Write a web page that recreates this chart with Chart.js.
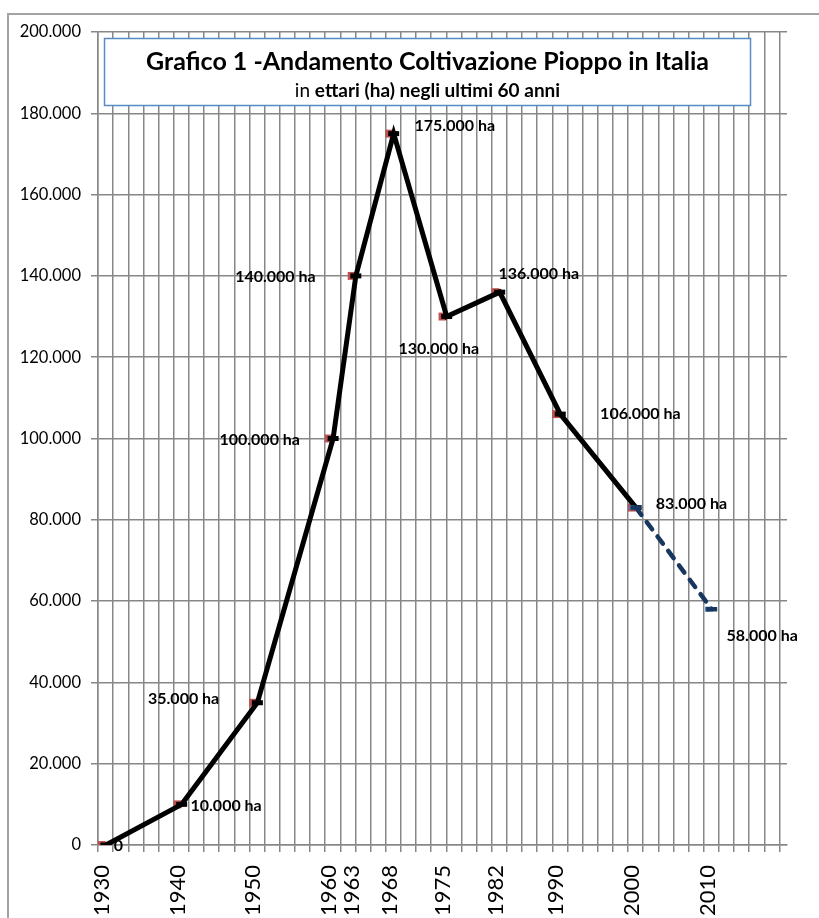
<!DOCTYPE html>
<html lang="it">
<head>
<meta charset="utf-8">
<title>Andamento Coltivazione Pioppo in Italia</title>
<script src="https://cdn.jsdelivr.net/npm/chart.js@4.4.1/dist/chart.umd.min.js"></script>
<style>
  html, body { margin: 0; padding: 0; background: #fff; }
  canvas { display: block; }
</style>
</head>
<body>
<canvas id="grafico" width="819" height="918"></canvas>
<script>
// Dati (ettari coltivati a pioppo)
const anni = [1930, 1940, 1950, 1960, 1963, 1968, 1975, 1982, 1990, 2000];
const ettari = [0, 10000, 35000, 100000, 140000, 175000, 130000, 136000, 106000, 83000];
const anniPrevisione = [2000, 2010];
const ettariPrevisione = [83000, 58000];
const etichetteAnni = [1930, 1940, 1950, 1960, 1963, 1968, 1975, 1982, 1990, 2000, 2010];

// Posizione delle etichette "ha" rispetto al punto: [dx, dy, allineamento]
const posEtichette = [
    [12, 1, 'left'],
    [13, 1, 'left'],
    [-34, -3.5, 'right'],
    [-29, 1.7, 'right'],
    [-36, 1, 'right'],
    [25, -7.3, 'left'],
    [-44, 32, 'left'],
    [3, -18.5, 'left'],
    [44, -0.6, 'left'],
    [24, -3.5, 'left'],
    [19, 27, 'left']
];

const GRIGIO = '#878787';
const FONT = 'Lato, "Open Sans", sans-serif';
const X_MIN = 1929.5;
const X_MAX = 2020.5;
const SPOSTAMENTO = 0.55; // la linea e' leggermente spostata a destra rispetto ai marker

function formatta(v) {
    return String(v).replace(/\B(?=(\d{3})+(?!\d))/g, '.');
}

function punti(xs, ys) {
    return xs.map((x, i) => ({ x: x, y: ys[i] }));
}

// Cornice, titolo ed etichette dei valori
const decorazioni = {
    id: 'decorazioni',
    beforeDraw(chart) {
        const c = chart.ctx;
        c.save();
        c.strokeStyle = '#a3a3a3';
        c.lineWidth = 2;
        c.strokeRect(8, 14, chart.width + 20, chart.height + 20);
        c.restore();
    },
    afterDatasetsDraw(chart) {
        const c = chart.ctx;
        const sx = chart.scales.x;
        const sy = chart.scales.y;
        const tuttiAnni = anni.concat(anniPrevisione.slice(1));
        const tuttiEttari = ettari.concat(ettariPrevisione.slice(1));
        c.save();
        c.fillStyle = '#000';
        c.font = 'bold 16px ' + FONT;
        c.textBaseline = 'middle';
        tuttiAnni.forEach((anno, i) => {
            const v = tuttiEttari[i];
            const [dx, dy, allinea] = posEtichette[i];
            const testo = v === 0 ? '0' : formatta(v) + ' ha';
            c.textAlign = allinea;
            c.fillText(testo, sx.getPixelForValue(anno) + dx, sy.getPixelForValue(v) + dy);
        });
        c.restore();
    },
    afterDraw(chart) {
        const c = chart.ctx;
        const box = { left: 104.5, top: 38.5, right: 750.5, bottom: 105.5 };
        const cx = (box.left + box.right) / 2;
        c.save();
        c.fillStyle = '#fff';
        c.fillRect(box.left, box.top, box.right - box.left, box.bottom - box.top);
        c.strokeStyle = '#5a8ac6';
        c.lineWidth = 1.5;
        c.strokeRect(box.left, box.top, box.right - box.left, box.bottom - box.top);

        c.fillStyle = '#000';
        c.textBaseline = 'middle';
        c.textAlign = 'center';
        c.font = 'bold 25px ' + FONT;
        c.fillText('Grafico 1 -Andamento Coltivazione Pioppo in Italia', cx, 62);

        // sottotitolo: "in" normale, il resto in grassetto
        const parte1 = 'in ';
        const parte2 = 'ettari (ha) negli ultimi 60 anni';
        c.font = '19px ' + FONT;
        const w1 = c.measureText(parte1).width;
        c.font = 'bold 19px ' + FONT;
        const w2 = c.measureText(parte2).width;
        const x0 = cx - (w1 + w2) / 2;
        c.textAlign = 'left';
        c.font = '19px ' + FONT;
        c.fillText(parte1, x0, 91);
        c.font = 'bold 19px ' + FONT;
        c.fillText(parte2, x0 + w1, 91);
        c.restore();
    }
};

new Chart(document.getElementById('grafico'), {
    type: 'line',
    data: {
        datasets: [
            {
                // marker rossi sui valori storici
                data: punti(anni, ettari),
                xAxisID: 'x',
                showLine: false,
                pointStyle: 'rect',
                pointRadius: 5.6,
                pointBorderWidth: 0,
                pointBackgroundColor: '#c0504d',
                order: 5
            },
            {
                // linea nera storica
                data: punti(anni, ettari),
                xAxisID: 'xLinea',
                borderColor: '#000',
                borderWidth: 5,
                pointStyle: 'line',
                pointRadius: 5.5,
                pointBorderWidth: 5,
                pointBorderColor: '#000',
                pointBackgroundColor: '#000',
                tension: 0,
                order: 4
            },
            {
                // marker blu della previsione
                data: punti(anniPrevisione, ettariPrevisione),
                xAxisID: 'x',
                showLine: false,
                pointStyle: 'rect',
                pointRadius: 3.6,
                pointBorderWidth: 0,
                pointBackgroundColor: '#4f81bd',
                order: 3
            },
            {
                // tratteggio blu scuro della previsione
                data: punti(anniPrevisione, ettariPrevisione),
                xAxisID: 'xLinea',
                borderColor: '#17375e',
                borderWidth: 4.5,
                borderDash: [9, 9],
                borderCapStyle: 'round',
                pointStyle: 'line',
                pointRadius: 5.5,
                pointBorderWidth: 4.5,
                pointBorderColor: '#17375e',
                pointBackgroundColor: '#17375e',
                tension: 0,
                order: 2
            }
        ]
    },
    options: {
        responsive: false,
        animation: false,
        events: [],
        layout: { padding: { top: 32, right: 11, bottom: 0, left: 0 } },
        plugins: {
            legend: { display: false },
            tooltip: { enabled: false }
        },
        scales: {
            x: {
                type: 'linear',
                position: 'bottom',
                min: X_MIN,
                max: X_MAX,
                afterBuildTicks: scale => {
                    const t = [];
                    for (let v = X_MIN; v < X_MAX; v += 2) t.push({ value: v });
                    etichetteAnni.forEach(a => t.push({ value: a }));
                    t.sort((a, b) => a.value - b.value);
                    scale.ticks = t;
                },
                afterFit: scale => { scale.height = 73; },
                grid: {
                    color: ctx => (ctx.tick && etichetteAnni.includes(ctx.tick.value)) ? 'rgba(0,0,0,0)' : GRIGIO,
                    tickColor: ctx => (ctx.tick && etichetteAnni.includes(ctx.tick.value)) ? 'rgba(0,0,0,0)' : GRIGIO,
                    lineWidth: 1.5,
                    tickLength: 7
                },
                border: { color: GRIGIO, width: 1.5 },
                ticks: {
                    autoSkip: false,
                    minRotation: 90,
                    maxRotation: 90,
                    padding: 13,
                    color: '#000',
                    font: { family: FONT, size: 22 },
                    callback: v => etichetteAnni.includes(v) ? String(v) : ''
                }
            },
            xLinea: {
                type: 'linear',
                display: false,
                min: X_MIN - SPOSTAMENTO,
                max: X_MAX - SPOSTAMENTO
            },
            y: {
                min: 0,
                max: 200000,
                afterFit: scale => { scale.width = 98; },
                grid: { color: GRIGIO, lineWidth: 1.5, tickLength: 7 },
                border: { color: GRIGIO, width: 1.5 },
                ticks: {
                    stepSize: 20000,
                    padding: 10,
                    color: '#000',
                    font: { family: FONT, size: 16.5 },
                    callback: v => formatta(v)
                }
            }
        }
    },
    plugins: [decorazioni]
});
</script>
</body>
</html>
